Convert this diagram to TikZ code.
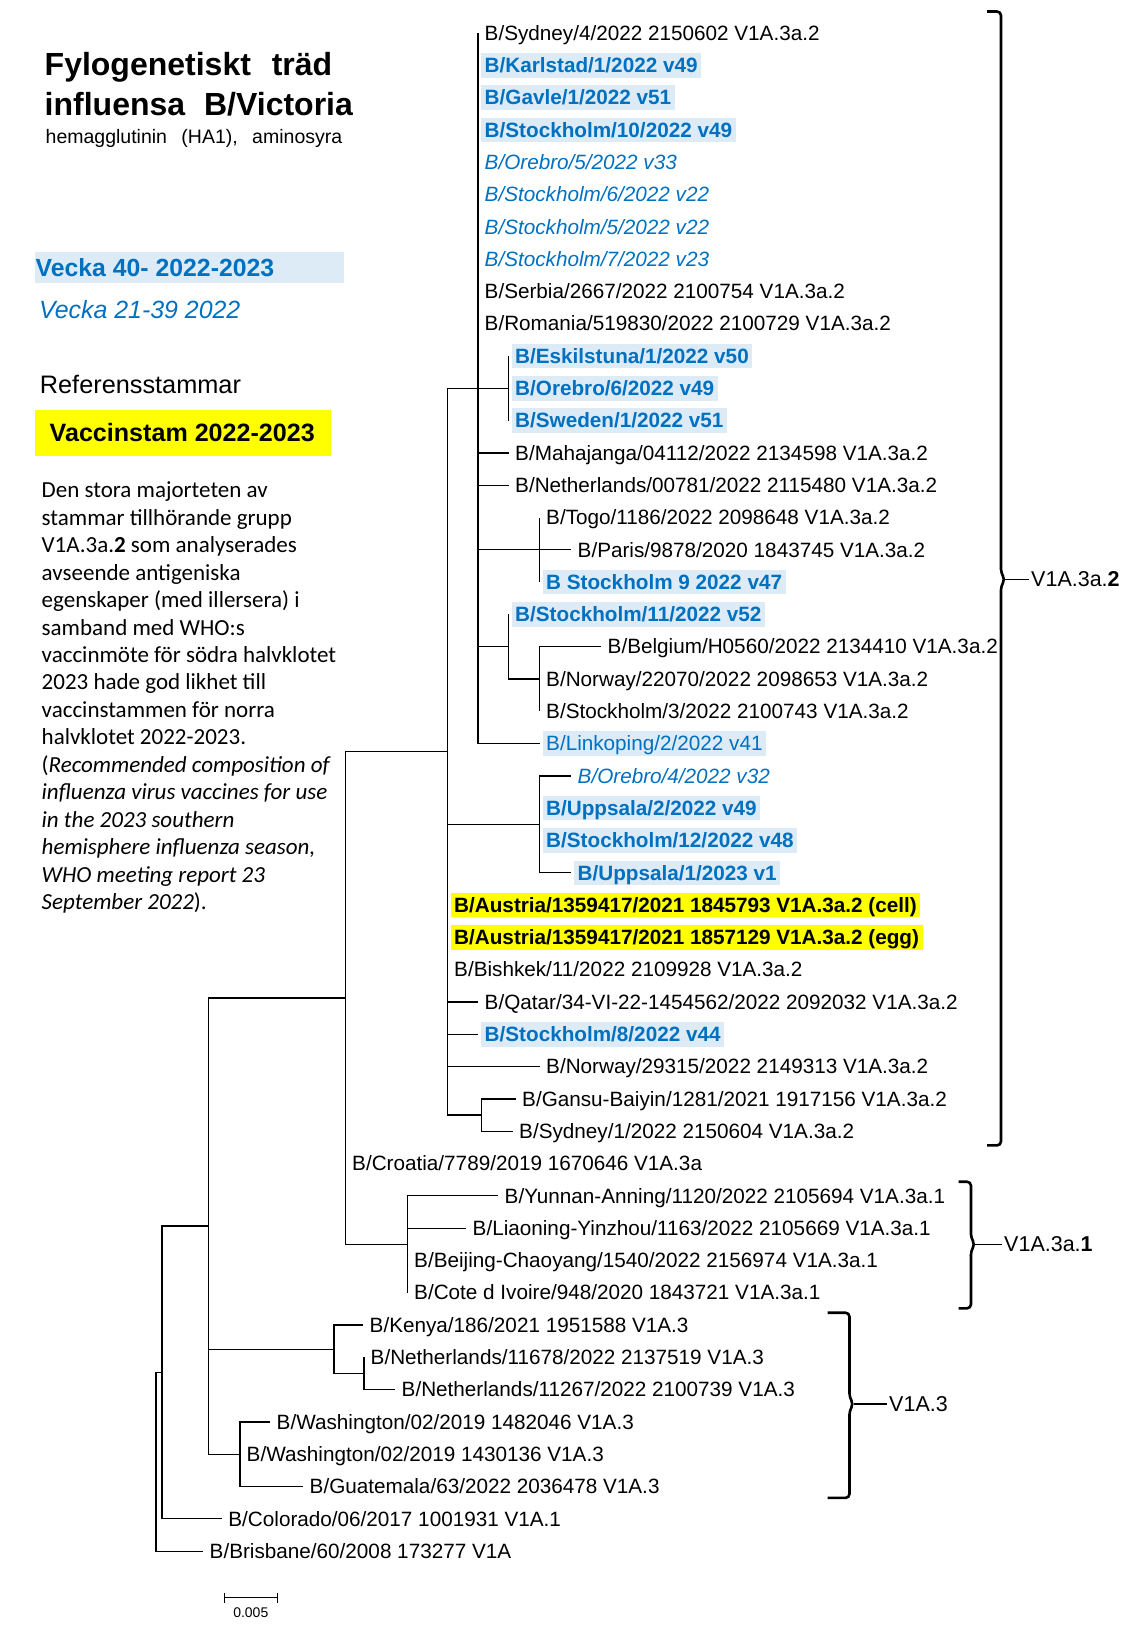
\documentclass[tikz,border=0pt]{standalone}
\usepackage{fontspec}
\setmainfont{Liberation Sans}
\newfontfamily\calfont{Carlito}
\definecolor{myblue}{RGB}{0,112,192}
\definecolor{lightbg}{RGB}{221,235,247}
\definecolor{vyellow}{RGB}{255,255,0}
\newcommand\fsz[1]{\fontsize{#1}{#1}\selectfont}
\newcommand\myleaf[6]{%
  \coordinate (t#1) at (#2,#3);
  \draw[br] (#5) |- (t#1);
  \node[#4] (L#1) at ([xshift=3pt]t#1) {#6};}
\begin{document}
\begin{tikzpicture}[x=1pt,y=-1pt,
  br/.style={line width=1.2pt},
  lab/.style={anchor=west, inner xsep=3.5pt, inner ysep=0pt, text height=19.5pt, text depth=5pt, font=\fsz{20.7}},
  plain/.style={lab},
  cur/.style={lab, font=\fsz{20.7}\bfseries, text=myblue, fill=lightbg},
  prev/.style={lab, font=\fsz{20.7}\itshape, text=myblue},
  link/.style={lab, text=myblue, fill=lightbg},
  vacc/.style={lab, font=\fsz{20.7}\bfseries, fill=vyellow},
  brk/.style={line width=2.6pt, rounded corners=4pt},
  brtip/.style={line width=1.5pt},
  brlab/.style={anchor=west, inner xsep=2pt, inner ysep=0pt, font=\fsz{21.5}},
  para/.style={anchor=base west, inner sep=0pt, font=\calfont\fsz{23}},
  txt/.style={anchor=base west, inner sep=0pt},
  ]
\useasboundingbox (0,0) rectangle (1139,1631);

% ---------- left texts ----------
\node[txt, font=\fsz{32}\bfseries] (title1) at (44.5,75.5) {Fylogenetiskt\hspace{12pt} träd};
\node[txt, font=\fsz{32}\bfseries] (title2) at (44.5,115) {influensa\hspace{10pt} B/Victoria};
\node[txt, font=\fsz{19.5}] (sub) at (45.5,143.5) {hemagglutinin\hspace{9pt} (HA1),\hspace{9pt} aminosyra};

\fill[lightbg] (35,252) rectangle (344,282.7);
\node[txt, font=\fsz{24.8}\bfseries, text=myblue] (v40) at (35.5,276) {Vecka 40- 2022-2023};
\node[txt, font=\fsz{24.9}\itshape, text=myblue] (v21) at (39,318.3) {Vecka 21-39 2022};

\node[txt, font=\fsz{25.3}] (ref) at (39.7,393.1) {Referensstammar};
\fill[vyellow] (35,410.4) rectangle (331,455.5);
\node[txt, font=\fsz{25.1}\bfseries] (vac) at (49.5,441) {Vaccinstam 2022-2023};

\foreach \t [count=\i from 0] in {%
  {Den stora majorteten av},
  {stammar tillhörande grupp},
  {V1A.3a.\textbf{2} som analyserades},
  {avseende antigeniska},
  {egenskaper (med illersera) i},
  {samband med WHO:s},
  {vaccinmöte för södra halvklotet},
  {2023 hade god likhet till},
  {vaccinstammen för norra},
  {halvklotet 2022-2023.},
  {(\textit{Recommended composition of}},
  {\textit{influenza virus vaccines for use}},
  {\textit{in the 2023 southern}},
  {\textit{hemisphere influenza season,}},
  {\textit{WHO meeting report 23}},
  {\textit{September 2022}).}}
  \node[para] (p\i) at (41.5,{497.6+27.48*\i}) {\t};

% ---------- internal nodes ----------
\coordinate (R) at (156,1461.77);
\coordinate (N1) at (162,1372.44);
\coordinate (N2) at (208.5,1226.08);
\coordinate (N3) at (345.5,997.96);
\coordinate (N4) at (447.5,751.68);
\coordinate (N5) at (478,388.3);
\coordinate (NEsk) at (508.5,388.3);
\coordinate (NTogo) at (539.5,549.8);
\coordinate (NStk) at (508.5,646.7);
\coordinate (NBel) at (539.5,679.0);
\coordinate (N6) at (539.5,824.35);
\coordinate (NGan) at (481.5,1115.05);
\coordinate (N31) at (407.5,1244.25);
\coordinate (NV) at (334,1349.2);
\coordinate (NNL) at (364,1373.45);
\coordinate (NW) at (240,1454.2);

\draw[br] (R) |- (N1) (N1) |- (N2) (N2) |- (N3) (N2) |- (NV) (N2) |- (NW)
  (N3) |- (N4) (N3) |- (N31) (N4) |- (N5) (N4) |- (N6) (N4) |- (NGan)
  (N5) |- (NEsk) (N5) |- (NTogo) (N5) |- (NStk) (NStk) |- (NBel) (NV) |- (NNL);

% ---------- leaves ----------
\myleaf{0}{478}{33.0}{plain}{N5}{B/Sydney/4/2022 2150602 V1A.3a.2}
\myleaf{1}{478}{65.3}{cur}{N5}{B/Karlstad/1/2022 v49}
\myleaf{2}{478}{97.6}{cur}{N5}{B/Gavle/1/2022 v51}
\myleaf{3}{478}{129.9}{cur}{N5}{B/Stockholm/10/2022 v49}
\myleaf{4}{478}{162.2}{prev}{N5}{B/Orebro/5/2022 v33}
\myleaf{5}{478}{194.5}{prev}{N5}{B/Stockholm/6/2022 v22}
\myleaf{6}{478}{226.8}{prev}{N5}{B/Stockholm/5/2022 v22}
\myleaf{7}{478}{259.1}{prev}{N5}{B/Stockholm/7/2022 v23}
\myleaf{8}{478}{291.4}{plain}{N5}{B/Serbia/2667/2022 2100754 V1A.3a.2}
\myleaf{9}{478}{323.7}{plain}{N5}{B/Romania/519830/2022 2100729 V1A.3a.2}
\myleaf{10}{508.5}{356.0}{cur}{NEsk}{B/Eskilstuna/1/2022 v50}
\myleaf{11}{508.5}{388.3}{cur}{NEsk}{B/Orebro/6/2022 v49}
\myleaf{12}{508.5}{420.6}{cur}{NEsk}{B/Sweden/1/2022 v51}
\myleaf{13}{508.5}{452.9}{plain}{N5}{B/Mahajanga/04112/2022 2134598 V1A.3a.2}
\myleaf{14}{508.5}{485.2}{plain}{N5}{B/Netherlands/00781/2022 2115480 V1A.3a.2}
\myleaf{15}{539.5}{517.5}{plain}{NTogo}{B/Togo/1186/2022 2098648 V1A.3a.2}
\myleaf{16}{571}{549.8}{plain}{NTogo}{B/Paris/9878/2020 1843745 V1A.3a.2}
\myleaf{17}{539.5}{582.1}{cur}{NTogo}{B Stockholm 9 2022 v47}
\myleaf{18}{508.5}{614.4}{cur}{NStk}{B/Stockholm/11/2022 v52}
\myleaf{19}{601}{646.7}{plain}{NBel}{B/Belgium/H0560/2022 2134410 V1A.3a.2}
\myleaf{20}{539.5}{679.0}{plain}{NBel}{B/Norway/22070/2022 2098653 V1A.3a.2}
\myleaf{21}{539.5}{711.3}{plain}{NBel}{B/Stockholm/3/2022 2100743 V1A.3a.2}
\myleaf{22}{539.5}{743.6}{link}{N5}{B/Linkoping/2/2022 v41}
\myleaf{23}{571}{775.9}{prev}{N6}{B/Orebro/4/2022 v32}
\myleaf{24}{539.5}{808.2}{cur}{N6}{B/Uppsala/2/2022 v49}
\myleaf{25}{539.5}{840.5}{cur}{N6}{B/Stockholm/12/2022 v48}
\myleaf{26}{571}{872.8}{cur}{N6}{B/Uppsala/1/2023 v1}
\myleaf{27}{447.5}{905.1}{vacc}{N4}{B/Austria/1359417/2021 1845793 V1A.3a.2 (cell)}
\myleaf{28}{447.5}{937.4}{vacc}{N4}{B/Austria/1359417/2021 1857129 V1A.3a.2 (egg)}
\myleaf{29}{447.5}{969.7}{plain}{N4}{B/Bishkek/11/2022 2109928 V1A.3a.2}
\myleaf{30}{478}{1002.0}{plain}{N4}{B/Qatar/34-VI-22-1454562/2022 2092032 V1A.3a.2}
\myleaf{31}{478}{1034.3}{cur}{N4}{B/Stockholm/8/2022 v44}
\myleaf{32}{539.5}{1066.6}{plain}{N4}{B/Norway/29315/2022 2149313 V1A.3a.2}
\myleaf{33}{515.5}{1098.9}{plain}{NGan}{B/Gansu-Baiyin/1281/2021 1917156 V1A.3a.2}
\myleaf{34}{512.5}{1131.2}{plain}{NGan}{B/Sydney/1/2022 2150604 V1A.3a.2}
\myleaf{35}{345.5}{1163.5}{plain}{N3}{B/Croatia/7789/2019 1670646 V1A.3a}
\myleaf{36}{498}{1195.8}{plain}{N31}{B/Yunnan-Anning/1120/2022 2105694 V1A.3a.1}
\myleaf{37}{466}{1228.1}{plain}{N31}{B/Liaoning-Yinzhou/1163/2022 2105669 V1A.3a.1}
\myleaf{38}{407.5}{1260.4}{plain}{N31}{B/Beijing-Chaoyang/1540/2022 2156974 V1A.3a.1}
\myleaf{39}{407.5}{1292.7}{plain}{N31}{B/Cote d Ivoire/948/2020 1843721 V1A.3a.1}
\myleaf{40}{363}{1325.0}{plain}{NV}{B/Kenya/186/2021 1951588 V1A.3}
\myleaf{41}{364}{1357.3}{plain}{NNL}{B/Netherlands/11678/2022 2137519 V1A.3}
\myleaf{42}{395}{1389.6}{plain}{NNL}{B/Netherlands/11267/2022 2100739 V1A.3}
\myleaf{43}{270}{1421.9}{plain}{NW}{B/Washington/02/2019 1482046 V1A.3}
\myleaf{44}{240}{1454.2}{plain}{NW}{B/Washington/02/2019 1430136 V1A.3}
\myleaf{45}{303}{1486.5}{plain}{NW}{B/Guatemala/63/2022 2036478 V1A.3}
\myleaf{46}{221.7}{1518.8}{plain}{N1}{B/Colorado/06/2017 1001931 V1A.1}
\myleaf{47}{203}{1551.1}{plain}{R}{B/Brisbane/60/2008 173277 V1A}

% ---------- brackets ----------
\draw[brk] (987,11.5) -- (1001,11.5) -- (1001,573) -- (1005,579.4) -- (1001,586) -- (1001,1145.4) -- (987,1145.4);
\coordinate (b2tip) at (1005,579.4);
\node[brlab] (B2) at (1029,579.4) {V1A.3a.\textbf{2}};
\draw[brtip] (b2tip) -- (B2.west);

\draw[brk] (958.5,1181.7) -- (971,1181.7) -- (971,1238) -- (975,1244.3) -- (971,1250.5) -- (971,1308.3) -- (958.5,1308.3);
\coordinate (b1tip) at (975,1244.3);
\node[brlab] (B1) at (1002,1244.3) {V1A.3a.\textbf{1}};
\draw[brtip] (b1tip) -- (B1.west);

\draw[brk] (827.5,1312.7) -- (849.5,1312.7) -- (849.5,1397.5) -- (853.5,1404) -- (849.5,1410.5) -- (849.5,1497.9) -- (827.5,1497.9);
\coordinate (b0tip) at (853.5,1404);
\node[brlab] (B0) at (887,1404) {V1A.3};
\draw[brtip] (b0tip) -- (B0.west);

% ---------- scale bar ----------
\coordinate (sb1) at (224.3,1597.7);
\coordinate (sb2) at (277.3,1597.7);
\draw[line width=1pt] (sb1) -- (sb2)
  ([yshift=5pt]sb1) -- ([yshift=-5pt]sb1)
  ([yshift=5pt]sb2) -- ([yshift=-5pt]sb2);
\node[inner sep=0pt, font=\fsz{14}] (sbl) at (250.8,1613) {0.005};
\end{tikzpicture}
\end{document}
